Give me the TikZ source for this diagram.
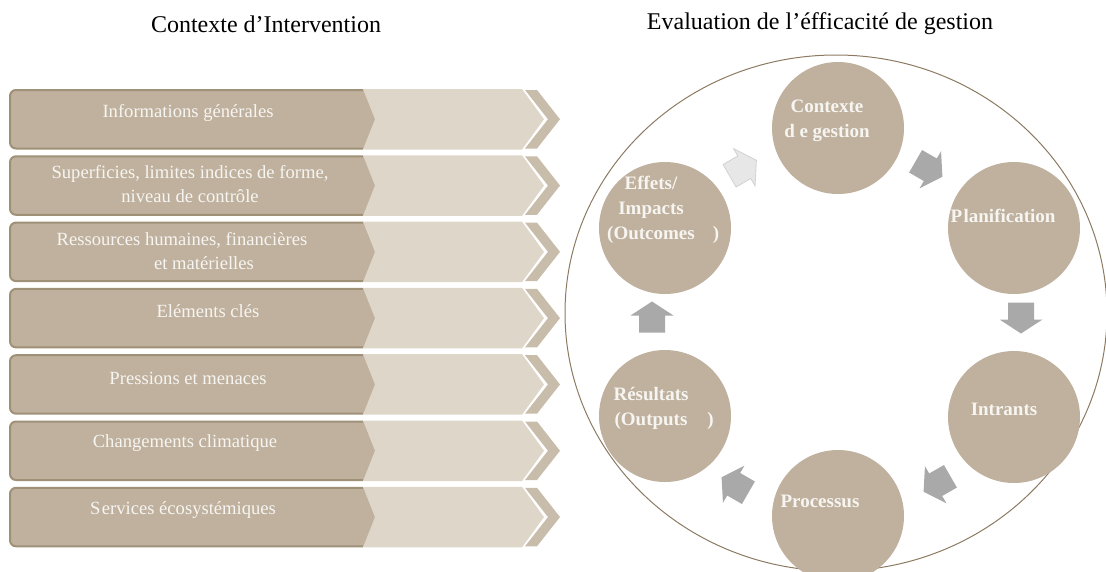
\documentclass[tikz,border=0pt]{standalone}
\usepackage{fontspec}
\setmainfont{Liberation Serif}
\definecolor{tan}{HTML}{BFB19E}
\definecolor{tanedge}{HTML}{9F9177}
\definecolor{tanlight}{HTML}{DED6C9}
\definecolor{tanstripe}{HTML}{C8BCAA}
\definecolor{ringline}{HTML}{8C7B62}
\definecolor{softwhite}{HTML}{F7F5F1}
\definecolor{arrowgray}{HTML}{A9A9A9}
\definecolor{arrowpale}{HTML}{E7E7E7}
\definecolor{arrowpaleedge}{HTML}{D2D2D2}
\begin{document}
\begin{tikzpicture}[x=1pt,y=-1pt,
  title/.style={font=\fontsize{24}{28}\selectfont, text=black, inner sep=0pt},
  bartext/.style={font=\fontsize{18.6}{24}\selectfont, text=softwhite, align=center, inner sep=0pt},
  stage/.style={circle, fill=tan, minimum size=132pt, inner sep=0pt},
  stagetext/.style={font=\bfseries\fontsize{19}{25}\selectfont, text=softwhite, align=center, inner sep=0pt},
  flow/.style={fill=arrowgray, draw=none},
  flowpale/.style={fill=arrowpale, draw=arrowpaleedge, line width=0.8pt},
  pics/cyclearrow/.style={code={
    \path[pic actions] (-15.5,-13) -- (1.5,-13) -- (1.5,-21.5) -- (15.5,0)
      -- (1.5,21.5) -- (1.5,13) -- (-15.5,13) -- cycle;}}
]
\useasboundingbox (0,0) rectangle (1106,571);
\clip (0,0) rectangle (1106,571);

% headings
\node[title] (hleft) at (266,24) {Contexte d’Intervention};
\node[title] (hright) at (820,24) {Evaluation de l’éfficacité de gestion};

% left column: chevron bars
\foreach \k/\tx/\ty/\txt in {
    0/188/23/{Informations générales},
    1/190/28/{Superficies, limites indices de forme,\\niveau de contrôle},
    2/182/28/{Ressources humaines, financières\\\hspace*{44pt}et matérielles},
    3/208/22/{Eléments clés},
    4/188/23/{Pressions et menaces},
    5/185/22/{Changements climatique},
    6/183/22/{S\kern1.5pt ervices écosystémiques}} {
  \pgfmathsetmacro{\t}{90+66.3*\k}
  \pgfmathsetmacro{\b}{\t+58.5}
  \pgfmathsetmacro{\m}{\t+29.25}
  % dark main block
  \fill[tan, rounded corners=6pt] (10,\t) rectangle (380,\b);
  \draw[tanedge, line width=2pt, rounded corners=6pt]
    (363,\t) -- (10,\t) -- (10,\b) -- (363,\b);
  % light notched chevron
  \fill[tanlight] (363,\t-1) -- (522,\t-1) -- (544,\m) -- (522,\b+1)
    -- (363,\b+1) -- (375,\m) -- cycle;
  % outer chevron stripe
  \fill[tanstripe] (525,\t) -- (537,\t) -- (560,\m) -- (537,\b)
    -- (525,\b) -- (548,\m) -- cycle;
  \node[bartext] (bar\k) at (\tx,\t+\ty) {\txt};
}

% right column: management effectiveness cycle
\draw[ringline, line width=1pt] (836,313) ellipse [x radius=271, y radius=258];

\node[stage] (ctx)  at (838,128) {};
\node[stage] (pla)  at (1014,228) {};
\node[stage] (intr) at (1014,417) {};
\node[stage] (proc) at (838,516) {};
\node[stage] (res)  at (665,416) {};
\node[stage] (eff)  at (665,228) {};

\node[stagetext] (ctxl)  at (827,121) {Contexte\\d e gestion};
\node[stagetext] (plal)  at (1003,216) {P\kern1.5pt lanification};
\node[stagetext] (intrl) at (1004,409) {Intrants};
\node[stagetext] (procl) at (820,501) {Processus};
\node[stagetext] (resl)  at (651,408) {Résultats\\(Outputs\rlap{\hspace{20pt})}};
\node[stagetext] (effl)  at (651,210) {Effets/\\Impacts\\(Outcomes\rlap{\hspace{18pt})}};

% block arrows between the stages
\pic[flow, rotate=-30]  at (929,169) {cyclearrow};
\pic[flow, rotate=-90]  at (1021,318) {cyclearrow};
\pic[flow, rotate=-150] at (937,484) {cyclearrow};
\pic[flow, rotate=150]  at (735,485) {cyclearrow};
\pic[flow, rotate=90]   at (652,317) {cyclearrow};
\pic[flowpale, rotate=30] at (743,168) {cyclearrow};
\end{tikzpicture}
\end{document}
